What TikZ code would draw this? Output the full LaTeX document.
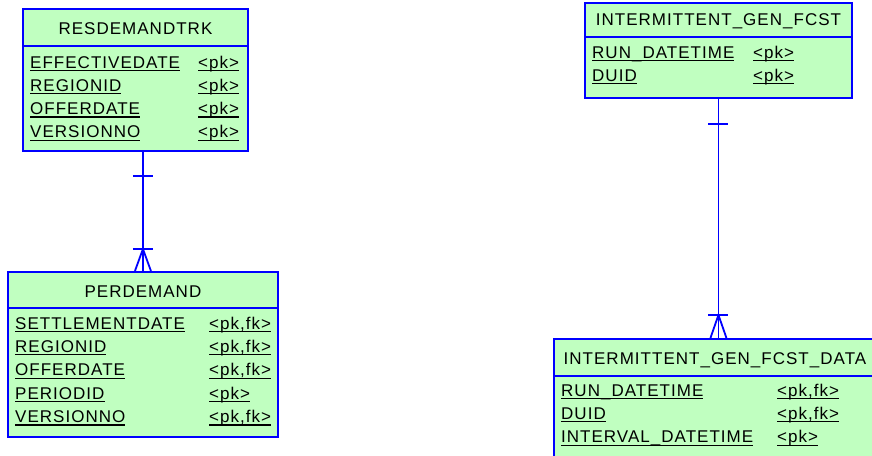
\documentclass[tikz,border=0pt]{standalone}
\usepackage{fontspec}
\setmainfont{Liberation Sans}[LetterSpace=6]
\usetikzlibrary{calc}
\definecolor{erfill}{RGB}{192,255,192}
\definecolor{erline}{RGB}{0,0,255}
\newcommand\erul[1]{\setbox0\hbox{#1}\rlap{\rule[-3pt]{\wd0}{1.2pt}}\box0}

\tikzset{
  tbl/.style={draw=erline, fill=erfill, line width=1.9pt, anchor=north west, inner sep=0pt},
  tblsep/.style={draw=erline, line width=1.7pt},
  tbltitle/.style={anchor=base, inner sep=0pt, font=\fontsize{17}{20}\selectfont},
  fld/.style={anchor=base west, inner sep=0pt, font=\fontsize{17}{20}\selectfont},
  rel/.style={draw=erline, line width=1.8pt},
}

\begin{document}
\begin{tikzpicture}[x=1pt, y=-1pt]
\clip (0,0) rectangle (872,455);
% RESDEMANDTRK
\node[tbl, minimum width=225pt, minimum height=142pt] (rdt) at (22,8) {};
\draw[tblsep] ($(rdt.north west)+(0,38)$) -- ($(rdt.north east)+(0,38)$);
\node[tbltitle] (rdt-t) at ($(rdt.north)+(0,26)$) {RESDEMANDTRK};
\foreach \f/\k [count=\i from 0] in {EFFECTIVEDATE/pk, REGIONID/pk, OFFERDATE/pk, VERSIONNO/pk}{
  \node[fld] (rdt-f\i) at ($(rdt.north west)+(8,60+23.3*\i)$) {\erul{\f}};
  \node[fld] (rdt-k\i) at ($(rdt.north west)+(176,60+23.3*\i)$) {\erul{<\k>}};
}
% PERDEMAND
\node[tbl, minimum width=270pt, minimum height=165pt] (pd) at (7,271) {};
\draw[tblsep] ($(pd.north west)+(0,37)$) -- ($(pd.north east)+(0,37)$);
\node[tbltitle] (pd-t) at ($(pd.north)+(0,26)$) {PERDEMAND};
\foreach \f/\k [count=\i from 0] in {SETTLEMENTDATE/{pk,fk}, REGIONID/{pk,fk}, OFFERDATE/{pk,fk}, PERIODID/pk, VERSIONNO/{pk,fk}}{
  \node[fld] (pd-f\i) at ($(pd.north west)+(8,58+23.4*\i)$) {\erul{\f}};
  \node[fld] (pd-k\i) at ($(pd.north west)+(202,58+23.4*\i)$) {\erul{<\k>}};
}
% INTERMITTENT_GEN_FCST
\node[tbl, minimum width=267pt, minimum height=95pt] (igf) at (584,2) {};
\draw[tblsep] ($(igf.north west)+(0,35)$) -- ($(igf.north east)+(0,35)$);
\node[tbltitle] (igf-t) at ($(igf.north)+(0,23)$) {INTERMITTENT\_GEN\_FCST};
\foreach \f/\k [count=\i from 0] in {RUN\_DATETIME/pk, DUID/pk}{
  \node[fld] (igf-f\i) at ($(igf.north west)+(8,56+23.2*\i)$) {\erul{\f}};
  \node[fld] (igf-k\i) at ($(igf.north west)+(169,56+23.2*\i)$) {\erul{<\k>}};
}
% INTERMITTENT_GEN_FCST_DATA
\node[tbl, minimum width=322pt, minimum height=140pt] (igfd) at (553,338) {};
\draw[tblsep] ($(igfd.north west)+(0,38)$) -- ($(igfd.north east)+(0,38)$);
\node[tbltitle] (igfd-t) at ($(igfd.north)+(0,26)$) {INTERMITTENT\_GEN\_FCST\_DATA};
\foreach \f/\k [count=\i from 0] in {RUN\_DATETIME/{pk,fk}, DUID/{pk,fk}, INTERVAL\_DATETIME/pk}{
  \node[fld] (igfd-f\i) at ($(igfd.north west)+(8,58+23.4*\i)$) {\erul{\f}};
  \node[fld] (igfd-k\i) at ($(igfd.north west)+(224,58+23.4*\i)$) {\erul{<\k>}};
}
% relationships: one to many
\draw[rel] (rdt.south -| pd.north) -- (pd.north);
\draw[rel] ($(rdt.south -| pd.north)+(-10,24)$) -- ++(20,0);
\draw[rel] ($(pd.north)+(-10,-22)$) -- ++(20,0);
\draw[rel] ($(pd.north)+(-8,0)$) -- ($(pd.north)+(0,-22)$) -- ($(pd.north)+(8,0)$);
\coordinate (igfd-in) at (igf.south |- igfd.north);
\draw[rel] (igf.south) -- (igfd-in);
\draw[rel] ($(igf.south)+(-10,25)$) -- ++(20,0);
\draw[rel] ($(igfd-in)+(-10,-23)$) -- ++(20,0);
\draw[rel] ($(igfd-in)+(-8,0)$) -- ($(igfd-in)+(0,-23)$) -- ($(igfd-in)+(8,0)$);
\end{tikzpicture}
\end{document}
